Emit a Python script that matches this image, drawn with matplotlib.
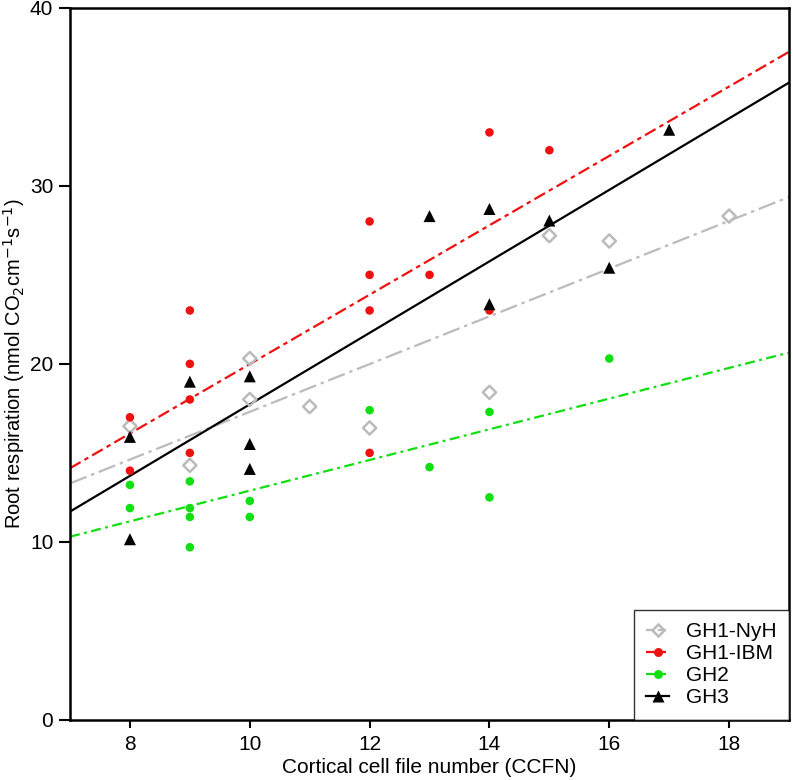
import numpy as np
import matplotlib
matplotlib.use('Agg')
import matplotlib.pyplot as plt
from matplotlib.lines import Line2D

plt.rcParams['font.family'] = ['Liberation Sans', 'DejaVu Sans']

# data
nyh_x = [8, 9, 10, 10, 11, 12, 14, 15, 16, 18]
nyh_y = [16.5, 14.3, 20.3, 18.0, 17.6, 16.4, 18.4, 27.2, 26.9, 28.3]

ibm_x = [8, 8, 9, 9, 9, 9, 12, 12, 12, 12, 13, 14, 14, 15]
ibm_y = [17.0, 14.0, 23.0, 20.0, 18.0, 15.0, 28.0, 25.0, 23.0, 15.0, 25.0, 33.0, 23.0, 32.0]

gh2_x = [8, 8, 9, 9, 9, 9, 10, 10, 12, 13, 14, 14, 16]
gh2_y = [13.2, 11.9, 13.4, 11.9, 11.4, 9.7, 12.3, 11.4, 17.4, 14.2, 17.3, 12.5, 20.3]

gh3_x = [8, 8, 9, 10, 10, 10, 13, 14, 14, 15, 16, 17]
gh3_y = [15.9, 10.15, 19.0, 19.3, 15.5, 14.1, 28.3, 28.7, 23.35, 28.05, 25.4, 33.15]

labels = ['GH1-NyH', 'GH1-IBM', 'GH2', 'GH3']
colors = ['#BBBBBB', '#F01010', '#10E010', 'black']

fig = plt.figure(figsize=(7.93, 7.80), dpi=100)
ax = fig.add_axes([0.0883, 0.077, 0.9067, 0.913])

xlim = (7, 19)
xx = np.array(xlim, dtype=float)

# regression lines
styles = [
    (0, (8, 2.2, 1.5, 2.2)),
    (0, (5.5, 2.0, 2.0, 2.0)),
    (0, (4.5, 2.0, 1.3, 2.0)),
    'solid',
]
series = [(nyh_x, nyh_y), (ibm_x, ibm_y), (gh2_x, gh2_y), (gh3_x, gh3_y)]
for (sx, sy), c, ls in zip(series, colors, styles):
    k, b = np.polyfit(sx, sy, 1)
    ax.plot(xx, k * xx + b, color=c, lw=1.6, ls=ls, zorder=2)

# points
ax.scatter(nyh_x, nyh_y, marker='D', s=45, facecolors='none',
           edgecolors=colors[0], linewidths=1.8, zorder=3)
ax.scatter(ibm_x, ibm_y, marker='o', s=38, color=colors[1], edgecolors='none', zorder=3)
ax.scatter(gh2_x, gh2_y, marker='o', s=38, color=colors[2], edgecolors='none', zorder=3)
ax.scatter(gh3_x, gh3_y, marker='^', s=75, color=colors[3], edgecolors='none', zorder=4)

ax.set_xlim(*xlim)
ax.set_ylim(0, 40)
ax.set_xticks([8, 10, 12, 14, 16, 18])
ax.set_yticks([0, 10, 20, 30, 40])
ax.tick_params(axis='x', labelsize=15, length=6, width=1.5, direction='out', pad=5)
ax.tick_params(axis='y', labelsize=15, length=8, width=1.5, direction='out', pad=4)
for sp in ax.spines.values():
    sp.set_linewidth(1.8)

ax.set_xlabel('Cortical cell file number (CCFN)', fontsize=15, labelpad=3)
ax.set_ylabel(r'Root respiration (nmol CO$_2$cm$^{-1}$s$^{-1}$)', fontsize=14.5, labelpad=2)

handles = [
    Line2D([], [], color=colors[0], ls='--', lw=1.6, marker='D', ms=6.5,
           mfc='none', mec=colors[0], mew=1.8),
    Line2D([], [], color=colors[1], ls='--', lw=1.6, marker='o', ms=6.5, mec='none'),
    Line2D([], [], color=colors[2], ls='--', lw=1.6, marker='o', ms=6.5, mec='none'),
    Line2D([], [], color=colors[3], ls='-', lw=1.6, marker='^', ms=8, mec='none'),
]
leg = ax.legend(handles, labels, loc='lower right', fontsize=15, frameon=True,
                fancybox=False, edgecolor='black', handlelength=1.1,
                borderaxespad=0, borderpad=0.6, labelspacing=0.15,
                handletextpad=0.8)
leg.get_frame().set_linewidth(1.0)

fig.savefig('out.png', dpi=100)
